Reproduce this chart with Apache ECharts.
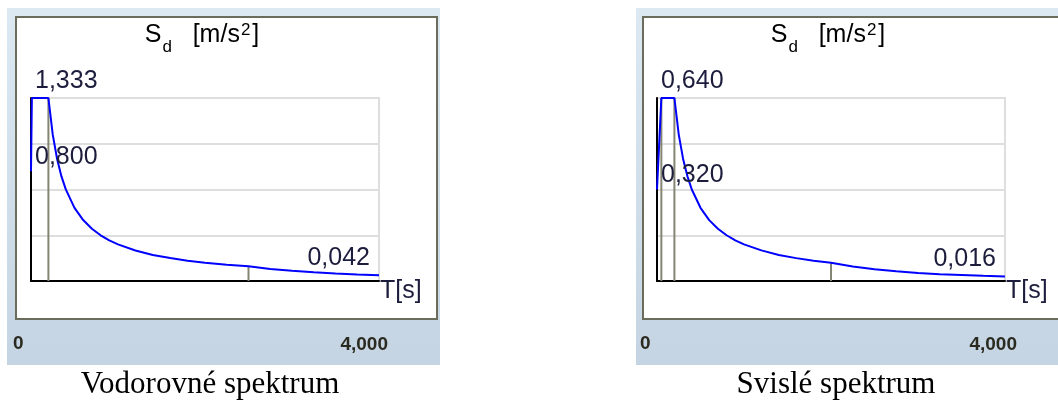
<!DOCTYPE html>
<html>
<head>
<meta charset="utf-8">
<script src="https://cdn.jsdelivr.net/npm/echarts@6/dist/echarts.min.js"></script>
<style>
html,body{margin:0;padding:0;background:#fff;}
#c{width:1058px;height:401px;}
</style>
</head>
<body>
<div id="c"></div>
<script>
// ---- data ----
// Horizontal (Vodorovné) design spectrum: T [s], Sd [m/s2]
const hT  = [0, 0.01, 0.2, 0.25, 0.3, 0.35, 0.4, 0.5, 0.6, 0.7, 0.8, 0.9, 1.0, 1.2, 1.4, 1.6, 1.8, 2.0, 2.25, 2.5, 2.75, 3.0, 3.25, 3.5, 3.75, 4.0];
const hSd = [0.800, 1.333, 1.333, 1.066, 0.889, 0.762, 0.667, 0.533, 0.444, 0.381, 0.333, 0.296, 0.267, 0.222, 0.190, 0.167, 0.148, 0.133, 0.118, 0.107, 0.088, 0.074, 0.063, 0.054, 0.047, 0.042];
// Vertical (Svislé) design spectrum
const vT  = [0, 0.05, 0.2, 0.25, 0.3, 0.35, 0.4, 0.5, 0.6, 0.7, 0.8, 0.9, 1.0, 1.2, 1.4, 1.6, 1.8, 2.0, 2.25, 2.5, 2.75, 3.0, 3.25, 3.5, 3.75, 4.0];
const vSd = [0.320, 0.640, 0.640, 0.512, 0.427, 0.366, 0.320, 0.256, 0.213, 0.183, 0.160, 0.142, 0.128, 0.107, 0.091, 0.080, 0.071, 0.064, 0.051, 0.041, 0.034, 0.028, 0.024, 0.021, 0.018, 0.016];
// corner periods marked by grey verticals: [T, top value]
const hMarkers = [[0.2, 1.333], [2.5, 0.107]];
const vMarkers = [[0.05, 0.640], [0.2, 0.640], [2.0, 0.064]];
// axis ranges
const xMax = 4;
const hYMax = 1.333;
const vYMax = 0.640;
// texts
const rangeLabels = ['0', '4,000'];
const captions = ['Vodorovné spektrum', 'Svislé spektrum'];
const xName = 'T[s]';

// ---- helpers ----
const fmt = v => v.toFixed(3).replace('.', ',');
const zip = (a, b) => a.map((x, i) => [x, b[i]]);

const chart = echarts.init(document.getElementById('c'), null, {renderer: 'canvas'});

const FONT = 'Liberation Sans, Arial, sans-serif';
const TXT = '#1c1c3c';
const GREY = '#858574';

function panelSeries(idx, T, Sd, markers) {
  const s = [];
  markers.forEach(m => {
    s.push({
      type: 'line', xAxisIndex: idx, yAxisIndex: idx,
      data: [[m[0], 0], [m[0], m[1]]],
      showSymbol: false, symbol: 'none', silent: true, z: 2,
      lineStyle: {color: GREY, width: 2}
    });
  });
  s.push({
    type: 'line', xAxisIndex: idx, yAxisIndex: idx,
    data: zip(T, Sd), showSymbol: false, symbol: 'none', z: 4,
    lineStyle: {color: '#0000ff', width: 2}
  });
  const n = T.length;
  const peak = Math.max(...Sd);
  const mk = (val, align, pos) => ({
    value: val,
    label: {show: true, position: pos, align: align, verticalAlign: 'middle',
            formatter: () => fmt(val[1]),
            fontFamily: FONT, fontSize: 25, color: TXT, opacity: 1, textBorderWidth: 0}
  });
  s.push({
    type: 'scatter', xAxisIndex: idx, yAxisIndex: idx, z: 6,
    symbol: 'rect', symbolSize: 2, itemStyle: {color: '#ffffff', opacity: 0.001}, silent: true,
    labelLayout: {hideOverlap: false},
    data: [
      mk([0, peak], 'left', [5, -16]),
      mk([T[0], Sd[0]], 'left', [5, -13]),
      mk([T[n-1], Sd[n-1]], 'right', [-8, -16])
    ]
  });
  return s;
}

function xAxis(idx) {
  return {
    type: 'value', gridIndex: idx, min: 0, max: xMax, interval: 1,
    axisLine: {show: true, onZero: false, lineStyle: {color: '#000', width: 2}},
    axisTick: {show: false}, axisLabel: {show: false}, splitLine: {show: false},
    name: xName, nameLocation: 'end', nameGap: 1,
    nameTextStyle: {fontFamily: FONT, fontSize: 25, color: TXT, verticalAlign: 'top', align: 'left', lineHeight: 20}
  };
}
function yAxis(idx, ymax) {
  return {
    type: 'value', gridIndex: idx, min: 0, max: ymax, interval: ymax / 4,
    axisLine: {show: true, lineStyle: {color: '#000', width: 2}},
    axisTick: {show: false}, axisLabel: {show: false},
    splitLine: {show: true, lineStyle: {color: '#dedede', width: 2}}
  };
}

const titleRich = {
  s: {fontFamily: FONT, fontSize: 25, color: '#2a2a3a', lineHeight: 30},
  d: {fontFamily: FONT, fontSize: 17, color: '#2a2a3a', verticalAlign: 'bottom', lineHeight: 30, padding: [0, 0, -6, 1]},
  u: {fontFamily: FONT, fontSize: 17, color: '#2a2a3a', verticalAlign: 'top', lineHeight: 30, padding: [2, 2, 0, 1]}
};
const titleText = '{s|S}{d|d}{s|   [m/s}{u|2}{s|]}';

function panelGraphics(bx, bw, boxX, boxW, plotCx, rx0, rx1, cap) {
  return [
    {type: 'rect', silent: true, z: -10, shape: {x: bx, y: 8, width: bw, height: 357},
     style: {fill: new echarts.graphic.LinearGradient(0, 0, 0, 1, [{offset: 0, color: '#dce9f3'}, {offset: 1, color: '#c4d4e2'}])}},
    {type: 'rect', silent: true, z: -9, shape: {x: boxX, y: 17, width: boxW, height: 302},
     style: {fill: '#ffffff', stroke: '#6c6c5c', lineWidth: 2}},
    {type: 'text', silent: true, z: 10, x: plotCx - 3, y: 35,
     style: {text: titleText, rich: titleRich, align: 'center', verticalAlign: 'middle'}},
    {type: 'text', silent: true, z: 10, x: rx0, y: 344,
     style: {text: rangeLabels[0], fontFamily: FONT, fontSize: 19, fontWeight: 'bold', fill: '#2a2a20', align: 'left', verticalAlign: 'middle'}},
    {type: 'text', silent: true, z: 10, x: rx1, y: 345,
     style: {text: rangeLabels[1], fontFamily: FONT, fontSize: 19, fontWeight: 'bold', fill: '#2a2a20', align: 'right', verticalAlign: 'middle'}},
    {type: 'text', silent: true, z: 10, x: plotCx + 5, y: 385,
     style: {text: cap, fontFamily: 'Liberation Serif, Times New Roman, serif', fontSize: 31, fill: '#000', align: 'center', verticalAlign: 'middle'}}
  ];
}

const option = {
  animation: false,
  backgroundColor: '#ffffff',
  grid: [
    {left: 31, top: 98, width: 348, height: 183, show: true, borderColor: '#dedede', borderWidth: 2, backgroundColor: 'transparent'},
    {left: 657, top: 98, width: 348, height: 183, show: true, borderColor: '#dedede', borderWidth: 2, backgroundColor: 'transparent'}
  ],
  xAxis: [xAxis(0), xAxis(1)],
  yAxis: [yAxis(0, hYMax), yAxis(1, vYMax)],
  series: [...panelSeries(0, hT, hSd, hMarkers), ...panelSeries(1, vT, vSd, vMarkers)],
  graphic: {elements: [
    ...panelGraphics(7, 433, 16, 421, 205, 13, 388, captions[0]),
    ...panelGraphics(636, 430, 643, 440, 831, 640, 1017, captions[1])
  ]}
};
chart.setOption(option);
</script>
</body>
</html>
